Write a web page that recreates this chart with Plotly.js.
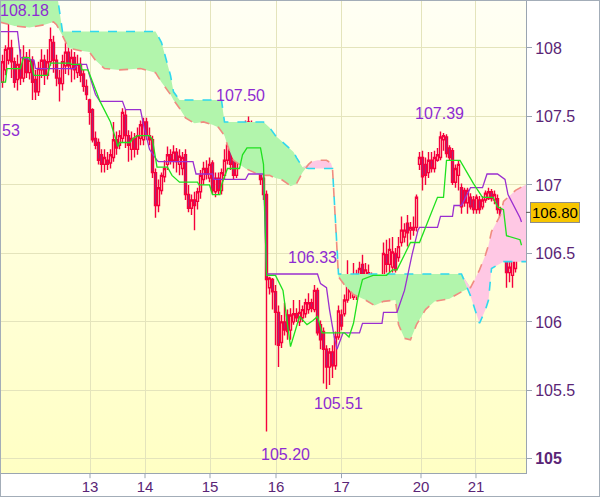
<!DOCTYPE html>
<html><head><meta charset="utf-8">
<script src="https://cdn.plot.ly/plotly-3.0.1.min.js"></script>
<style>
html,body{margin:0;padding:0;background:#fff;}
#wrap{position:relative;width:600px;height:497px;overflow:hidden;}
#bg{position:absolute;left:1px;top:1px;width:525px;height:472px;background:linear-gradient(#fffff4,#ffffc4);}
#chart{position:absolute;left:0;top:0;width:600px;height:497px;}
#frame{position:absolute;left:0;top:0;width:600px;height:497px;box-sizing:border-box;border:1px solid #a3adb8;pointer-events:none;}
</style></head>
<body><div id="wrap"><div id="bg"></div><div id="chart"></div><div id="frame"></div></div>
<script>
// ---- candles (hourly bars) ----
const openP = [107.75,107.84,107.91,108.00,107.90,107.77,107.88,107.78,107.93,107.82,
107.91,107.77,107.68,107.84,107.91,107.80,107.90,108.04,107.91,107.78,
107.74,107.87,107.97,107.85,107.93,107.82,107.88,107.81,107.72,107.62,
107.55,107.34,107.31,107.22,107.15,107.18,107.16,107.20,107.33,107.29,
107.34,107.51,107.36,107.26,107.34,107.26,107.34,107.33,107.46,107.36,
107.33,107.09,106.85,106.96,107.06,107.15,107.22,107.18,107.24,107.15,
107.12,107.22,106.93,106.83,106.89,106.88,106.95,107.04,107.12,107.05,
107.16,106.95,107.05,106.96,107.07,107.18,107.29,107.20,107.07,107.18,
107.29,107.26,107.33,107.44,107.27,107.18,107.29,107.05,106.93,106.25,
106.31,106.22,106.07,105.85,106.00,106.05,105.94,106.00,106.06,106.00,
106.03,106.06,106.09,106.14,106.09,106.23,105.98,105.93,105.80,105.67,
105.78,105.68,105.89,106.05,106.06,106.16,106.29,106.18,106.31,106.23,
106.42,106.31,106.36,106.33,106.20,106.28,106.29,106.31,106.49,106.42,
106.40,106.50,106.47,106.58,106.62,106.72,106.67,106.69,106.69,107.15,
107.20,107.15,107.09,107.18,107.12,107.18,107.20,107.33,107.35,107.27,
107.25,107.02,107.07,106.98,106.96,106.87,106.91,106.89,106.82,106.89,
106.84,106.89,106.90,106.95,106.89,106.90,106.82,106.74,106.58,106.36,
106.34,106.39,106.56,106.67];
const highP = [107.95,108.02,108.18,108.06,107.93,107.95,107.99,108.02,107.97,107.99,
107.94,107.84,107.90,107.99,107.95,107.99,108.15,108.09,107.95,107.84,
107.95,108.04,108.02,107.99,107.97,107.95,107.93,107.84,107.77,107.63,
107.56,107.39,107.34,107.26,107.26,107.24,107.26,107.46,107.39,107.40,
107.56,107.55,107.40,107.39,107.38,107.42,107.47,107.49,107.49,107.42,
107.36,107.12,107.04,107.09,107.18,107.28,107.26,107.29,107.27,107.26,
107.24,107.26,107.00,106.93,106.95,106.98,107.11,107.17,107.18,107.20,
107.18,107.09,107.09,107.12,107.26,107.34,107.33,107.26,107.22,107.31,
107.33,107.47,107.50,107.47,107.33,107.33,107.33,107.15,106.96,106.33,
106.32,106.27,106.12,106.05,106.14,106.09,106.10,106.16,106.10,106.16,
106.12,106.17,106.21,106.17,106.27,106.25,106.01,105.96,105.83,105.81,
105.83,105.93,106.12,106.09,106.20,106.45,106.34,106.43,106.38,106.44,
106.49,106.43,106.42,106.36,106.32,106.34,106.34,106.58,106.60,106.61,
106.62,106.54,106.62,106.77,106.72,106.78,106.73,106.77,106.93,107.24,
107.25,107.20,107.24,107.24,107.25,107.27,107.39,107.38,107.37,107.29,
107.27,107.15,107.18,107.01,106.98,106.98,106.94,106.92,106.93,106.92,
106.92,106.96,106.98,106.97,106.96,106.93,106.84,106.77,106.60,106.49,
106.50,106.58,106.74,106.85];
const lowP = [107.71,107.80,107.88,107.78,107.71,107.69,107.73,107.75,107.78,107.77,
107.62,107.62,107.65,107.78,107.73,107.77,107.87,107.82,107.72,107.61,
107.69,107.81,107.80,107.75,107.77,107.78,107.75,107.68,107.62,107.44,
107.31,107.26,107.15,107.09,107.09,107.11,107.12,107.17,107.22,107.26,
107.31,107.27,107.17,107.18,107.20,107.22,107.29,107.29,107.33,107.29,
107.05,106.76,106.80,106.93,107.02,107.11,107.15,107.12,107.09,107.07,
107.07,106.89,106.80,106.78,106.67,106.82,106.90,107.00,107.04,107.02,
106.93,106.91,106.93,106.93,107.04,107.15,107.11,107.04,107.05,107.17,
107.17,107.22,107.27,107.27,107.12,107.15,107.00,106.89,105.20,106.20,
106.09,105.83,105.67,105.81,105.90,105.87,105.87,105.98,106.00,105.97,
106.00,106.03,106.06,106.07,106.07,105.90,105.80,105.55,105.51,105.54,
105.59,105.65,105.87,105.94,106.04,106.14,106.17,106.16,106.16,106.20,
106.31,106.27,106.22,106.14,106.16,106.17,106.16,106.27,106.36,106.36,
106.36,106.36,106.44,106.55,106.58,106.55,106.60,106.63,106.66,107.11,
106.96,107.00,107.05,107.09,107.09,107.17,107.18,107.25,107.20,107.18,
107.00,106.98,106.96,106.79,106.84,106.79,106.82,106.79,106.79,106.79,
106.82,106.87,106.89,106.88,106.86,106.79,106.69,106.55,106.25,106.29,
106.25,106.36,106.52,106.63];
const closeP = [107.90,107.99,108.00,107.90,107.75,107.88,107.78,107.93,107.82,107.91,
107.75,107.68,107.85,107.91,107.80,107.90,108.06,107.91,107.78,107.74,
107.90,107.97,107.87,107.93,107.84,107.88,107.80,107.72,107.66,107.53,
107.33,107.29,107.18,107.15,107.20,107.15,107.22,107.33,107.27,107.36,
107.53,107.36,107.29,107.34,107.26,107.36,107.44,107.46,107.36,107.33,
107.09,106.85,106.98,107.07,107.12,107.22,107.18,107.24,107.17,107.21,
107.20,106.93,106.83,106.89,106.85,106.95,107.07,107.12,107.08,107.15,
106.96,107.05,106.96,107.09,107.18,107.29,107.15,107.07,107.17,107.27,
107.22,107.44,107.46,107.31,107.16,107.27,107.04,106.93,106.31,106.32,
106.22,106.07,105.83,106.00,105.94,105.93,106.05,106.06,106.03,106.07,
106.09,106.14,106.14,106.10,106.23,105.92,105.87,105.80,105.67,105.78,
105.68,105.89,106.08,105.97,106.16,106.29,106.22,106.27,106.23,106.39,
106.34,106.38,106.27,106.21,106.27,106.22,106.20,106.50,106.42,106.53,
106.51,106.38,106.55,106.67,106.67,106.65,106.69,106.67,106.91,107.20,
107.06,107.07,107.18,107.12,107.20,107.22,107.35,107.36,107.23,107.20,
107.02,107.12,107.15,106.84,106.87,106.96,106.84,106.82,106.91,106.82,
106.89,106.94,106.95,106.90,106.93,106.82,106.74,106.58,106.36,106.40,
106.47,106.56,106.71,106.80];

// ---- axis labels ----
const dayLabels = ['13','14','15','16','17','20','21'];
const dayTickPos = [29.17,47.5,69.17,91.17,113,139.5,157.83];
const priceTicks = [105,105.5,106,106.5,107,107.5,108];
const priceTickText = ['<b>105</b>','105.5','106','106.5','107','107.5','108'];

// ---- Ichimoku lines (bar index, price) ----
const kijunX = [-1,5,6,10.5,11,24,25,28,29,31,32.5,40,41,46,47,49,51.5,52,63.5,64.5,70,70.5,81,82,87,88,105,106,108,109,110.5,111.5,113.5,119,120,126.5,127,131.5,134,136.5,138.5,139,145,146,150,150.5,153,156,160,161.5,165,167.5,168.5,170.5,172.5,173];
const kijunY = [108.12,108.12,107.93,107.91,107.85,107.85,107.88,107.88,107.80,107.66,107.61,107.61,107.55,107.55,107.44,107.26,107.18,107.17,107.17,107.08,107.08,107.04,107.04,107.08,107.08,106.35,106.35,106.28,106.25,106.09,105.90,105.80,105.92,105.92,105.99,105.99,106.07,106.07,106.23,106.49,106.67,106.69,106.69,106.77,106.77,106.85,106.85,106.98,106.98,107.08,107.08,107.04,106.93,106.85,106.76,106.73];
const tenkanX = [-1,1,1.5,6,7,9,10.5,15,16,22.5,23,26,26.5,28.5,32.5,36,38.5,39,42.5,43.5,45,49,50,51.5,55,56.5,59,65,65.5,69,70,72.5,73,75,79,80,81.5,86,87,88,91,93.5,96,97,99,101.5,103.5,105,106.5,114,115.5,117,118.5,120,123.5,128,130,131.5,136,139,142,145,147,148,152.5,157,160,163.5,165,167,168,172.5,173];
const tenkanY = [107.75,107.75,107.85,107.85,107.93,107.93,107.80,107.80,107.89,107.89,107.88,107.88,107.84,107.84,107.61,107.46,107.28,107.31,107.31,107.34,107.36,107.36,107.33,107.13,107.13,107.07,107.02,107.02,107.00,107.00,106.93,106.93,107.00,107.12,107.12,107.22,107.27,107.27,107.15,106.34,106.34,106.23,105.82,105.90,106.04,105.98,106.01,106.04,105.92,105.92,105.89,105.99,106.18,106.31,106.34,106.34,106.38,106.38,106.58,106.58,106.74,106.91,106.91,107.18,107.18,107.01,106.91,106.91,106.84,106.82,106.63,106.60,106.56];

// ---- cloud (senkou spans, shifted forward) ----
const cloudX = [-1,4,9,14,17,18,20,22,26,29,31,34,39,46,51,53,56,57,59,61,64,67,70,72,73,74,75,77,81,85,87,89,91,93,95,96,97,98,100,102,103,105,108,109.5,110,112,114,117,121,124,127,131,132,134,136,138,141,144,149,153,156,159,161,162,163,166,167,171,175,178];
const spanA = [108.42,108.42,108.42,108.42,108.42,108.42,108.12,108.12,108.12,108.12,108.12,108.12,108.12,108.12,108.12,108.04,107.80,107.68,107.62,107.62,107.62,107.62,107.62,107.62,107.62,107.46,107.46,107.46,107.46,107.46,107.46,107.42,107.36,107.32,107.28,107.26,107.24,107.20,107.13,107.12,107.12,107.12,107.12,107.12,107.12,106.35,106.35,106.35,106.35,106.35,106.35,106.35,106.35,106.35,106.35,106.35,106.35,106.35,106.35,106.35,106.19,105.99,106.09,106.16,106.39,106.43,106.44,106.44,106.44,106.44];
const spanB = [108.19,108.16,108.15,108.17,108.19,108.17,108.09,108.00,107.98,107.97,107.91,107.85,107.84,107.85,107.82,107.75,107.66,107.62,107.56,107.49,107.45,107.46,107.44,107.42,107.39,107.36,107.29,107.18,107.12,107.08,107.07,107.07,107.05,107.04,107.01,106.99,107.00,107.01,107.09,107.15,107.17,107.18,107.18,107.16,107.12,106.33,106.27,106.20,106.16,106.12,106.15,106.16,105.98,105.88,105.87,105.98,106.09,106.15,106.17,106.22,106.25,106.38,106.49,106.56,106.66,106.78,106.88,106.96,107.01,107.02];

const barIdx = closeP.map((_, k) => k);
const upperAB = spanA.map((a, k) => Math.max(a, spanB[k]));

const RED = '#f5003c';
const traces = [
  {x: cloudX, y: spanB, mode: 'lines', line: {width: 0}, hoverinfo: 'skip'},
  {x: cloudX, y: upperAB, mode: 'lines', line: {width: 0}, fill: 'tonexty', fillcolor: '#b2f5ac', hoverinfo: 'skip'},
  {x: cloudX, y: spanA, mode: 'lines', line: {width: 0}, hoverinfo: 'skip'},
  {x: cloudX, y: upperAB, mode: 'lines', line: {width: 0}, fill: 'tonexty', fillcolor: '#ffc8e4', hoverinfo: 'skip'},
  {x: cloudX, y: spanA, mode: 'lines', line: {color: '#2fd8ee', width: 1.6, dash: 'dash'}, hoverinfo: 'skip'},
  {x: cloudX, y: spanB, mode: 'lines', line: {color: '#f08c80', width: 1.6, dash: 'dash'}, hoverinfo: 'skip'},
  {type: 'candlestick', x: barIdx, open: openP, high: highP, low: lowP, close: closeP,
   increasing: {line: {color: RED, width: 1.4}, fillcolor: 'rgba(0,0,0,0)'},
   decreasing: {line: {color: RED, width: 1.4}, fillcolor: '#7a3c9c'},
   whiskerwidth: 0, hoverinfo: 'skip'},
  {x: kijunX, y: kijunY, mode: 'lines', line: {color: '#9a2fd0', width: 1.3}, hoverinfo: 'skip'},
  {x: tenkanX, y: tenkanY, mode: 'lines', line: {color: '#1fe01f', width: 1.3}, hoverinfo: 'skip'}
];

const labelFont = {family: 'Liberation Sans, Arial, sans-serif', size: 16, color: '#8e2bd2'};
function extLabel(i, val, dx, dy) {
  return {x: i, y: val, xref: 'x', yref: 'y', text: val.toFixed(2), showarrow: false,
          xshift: dx, yshift: dy, font: labelFont};
}
const last = closeP.length - 1;
const annotations = [
  extLabel(2, highP[2], 16, 13),
  extLabel(82, highP[82], -8, 21),
  extLabel(146, highP[146], -1, 18),
  extLabel(89, highP[89], 43, 19),
  extLabel(108, lowP[108], 12, -14),
  extLabel(88, lowP[88], 19, -23),
  {x: 0, y: 107.40, xref: 'paper', yref: 'y', xanchor: 'left', xshift: -1, text: '53', showarrow: false, font: labelFont},
  {x: 1, y: closeP[last], xref: 'paper', yref: 'y', xanchor: 'left', xshift: 4, text: closeP[last].toFixed(2),
   showarrow: false, bgcolor: '#f7c600', bordercolor: '#8c8c8c', borderwidth: 1, borderpad: 1,
   font: {family: 'Liberation Sans, Arial, sans-serif', size: 15, color: '#000'}}
];

// short tick marks under the x axis at each day boundary
const shapes = dayTickPos.map(v => ({type: 'line', xref: 'x', yref: 'paper', x0: v, x1: v, y0: 0, y1: -0.011,
  line: {color: '#9aa5b1', width: 1}}));
shapes.push({type: 'line', xref: 'paper', yref: 'y', x0: 1, x1: 1.012, y0: closeP[last], y1: closeP[last],
  line: {color: '#555', width: 1}});

const layout = {
  width: 600, height: 497, margin: {l: 1, r: 74, t: 1, b: 24},
  paper_bgcolor: 'rgba(0,0,0,0)', plot_bgcolor: 'rgba(0,0,0,0)',
  showlegend: false, hovermode: false, dragmode: false, boxgap: 0.05,
  xaxis: {range: [-0.5, 174.5], tickmode: 'array', tickvals: dayTickPos, ticktext: dayLabels,
    ticks: '', showgrid: true, gridcolor: '#e4e4bc',
    zeroline: false, showline: true, linecolor: '#9aa5b1', mirror: true,
    rangeslider: {visible: false}, fixedrange: true,
    tickfont: {family: 'Liberation Sans, Arial, sans-serif', size: 15, color: '#5a2576'}},
  yaxis: {side: 'right', range: [104.897, 108.343], tickmode: 'array', tickvals: priceTicks, ticktext: priceTickText,
    ticks: 'outside', ticklen: 5, tickcolor: '#9aa5b1', showgrid: true, gridcolor: '#e4e4bc',
    zeroline: false, showline: true, linecolor: '#9aa5b1', mirror: true, fixedrange: true,
    tickfont: {family: 'Liberation Sans, Arial, sans-serif', size: 16, color: '#5a2576'}},
  annotations: annotations,
  shapes: shapes
};

Plotly.newPlot('chart', traces, layout, {staticPlot: true, displayModeBar: false});
</script></body></html>
